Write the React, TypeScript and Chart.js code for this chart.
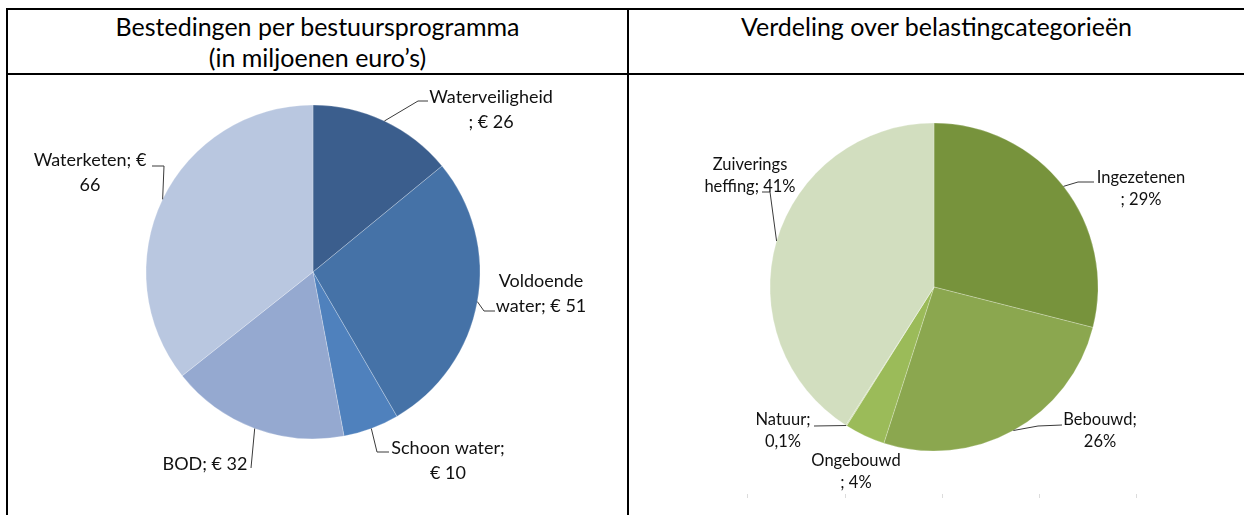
import React, { useEffect, useRef } from "react";
import { Chart, registerables } from "chart.js";
Chart.register(...registerables);

// ---------- DATA ----------
const programCategories = ["Waterveiligheid", "Voldoende water", "Schoon water", "BOD", "Waterketen"];
const programValues = [26, 51, 10, 32, 66];
const programColors = ["#3B5E8D", "#4572A7", "#4F81BD", "#95A9D0", "#B9C7E0"];

const taxCategories = ["Ingezetenen", "Bebouwd", "Ongebouwd", "Natuur", "Zuiveringsheffing"];
const taxValues = [29, 26, 4, 0.1, 41];
const taxColors = ["#77933C", "#8BA74F", "#9BBB59", "#C3D69B", "#D2DEBF"];

const leftTitleLines = ["Bestedingen per bestuursprogramma", "(in miljoenen euro\u2019s)"];
const rightTitleLines = ["Verdeling over belastingcategorie\u00EBn"];

// ---------- label text (wrapped as in the reference) ----------
const fmt = (v: number) => String(v).replace(".", ",");
const programLabelText = programCategories.map((c, i) => `${c}; \u20AC ${programValues[i]}`);
const taxLabelText = taxCategories.map((c, i) => `${c}; ${fmt(taxValues[i])}%`);
const programBreaks = [15, 9, 13, 0, 13];
const taxBreaks = [11, 8, 9, 7, 10];
const wrap = (t: string, b: number) => (b > 0 ? [t.slice(0, b).trim(), t.slice(b).trim()] : [t]);
const programLabelLines = programLabelText.map((t, i) => wrap(t, programBreaks[i]));
const taxLabelLines = taxLabelText.map((t, i) => wrap(t, taxBreaks[i]));

// ---------- label layout (offsets from pie centre, px) ----------
const programLabelStyle = [
  { text: [178, -175], elbow: [105, -171], end: [115, -171] },
  { text: [228, 9], elbow: [171, 39], end: [182, 39] },
  { text: [135, 176], elbow: [64, 180], end: [76, 180] },
  { text: [-108, 192], elbow: [-62, 196], end: [-62, 196] },
  { text: [-223, -112], elbow: [-149, -106], end: [-161, -106] },
];
const taxLabelStyle = [
  { text: [207, -109], elbow: [144, -105], end: [160, -105] },
  { text: [166, 133], elbow: [104, 139], end: [128, 138] },
  { text: [-78, 174] },
  { text: [-151, 133], elbow: [-120, 139], end: [-120, 139] },
  { text: [-184, -122], elbow: [-164, -95], end: [-172, -95] },
];

const leaderLabelPlugin = {
  id: "leaderLabels",
  afterDatasetsDraw(chart: any, _args: any, opts: any) {
    const meta = chart.getDatasetMeta(0);
    const ctx = chart.ctx as CanvasRenderingContext2D;
    ctx.save();
    ctx.font = opts.font;
    ctx.fillStyle = opts.color;
    ctx.strokeStyle = opts.lineColor;
    ctx.lineWidth = 1;
    ctx.textAlign = "center";
    ctx.textBaseline = "middle";
    meta.data.forEach((arc: any, i: number) => {
      const st = opts.styles[i];
      const p = arc.getProps(["x", "y", "startAngle", "endAngle", "outerRadius"], true);
      const mid = (p.startAngle + p.endAngle) / 2;
      if (st.elbow) {
        const ex = p.x + Math.cos(mid) * p.outerRadius;
        const ey = p.y + Math.sin(mid) * p.outerRadius;
        ctx.beginPath();
        ctx.moveTo(ex, ey);
        ctx.lineTo(p.x + st.elbow[0], p.y + st.elbow[1]);
        ctx.lineTo(p.x + st.end[0], p.y + st.end[1]);
        ctx.stroke();
      }
      opts.lines[i].forEach((ln: string, k: number) => {
        ctx.fillText(ln, p.x + st.text[0], p.y + st.text[1] + k * opts.lineHeight);
      });
    });
    ctx.restore();
  },
};

type PieProps = {
  left: number; top: number; width: number; height: number;
  labels: string[]; values: number[]; colors: string[]; radius: number;
  padding: { left: number; right: number; top: number; bottom: number };
  lines: string[][]; styles: any[]; font: string; lineHeight: number;
};

function PieCanvas(props: PieProps) {
  const ref = useRef<HTMLCanvasElement>(null);
  useEffect(() => {
    const chart = new Chart(ref.current!, {
      type: "pie",
      data: {
        labels: props.labels,
        datasets: [
          {
            data: props.values,
            backgroundColor: props.colors,
            borderColor: "rgba(255,255,255,0.35)",
            borderWidth: 0.7,
            radius: props.radius,
          } as any,
        ],
      },
      options: {
        animation: false,
        responsive: false,
        devicePixelRatio: 1,
        layout: { padding: props.padding },
        plugins: {
          legend: { display: false },
          tooltip: { enabled: false },
          leaderLabels: {
            font: props.font,
            color: "#111",
            lineColor: "#3a3a3a",
            lines: props.lines,
            styles: props.styles,
            lineHeight: props.lineHeight,
          },
        } as any,
      },
      plugins: [leaderLabelPlugin],
    });
    return () => chart.destroy();
  }, []);
  return (
    <canvas
      ref={ref}
      width={props.width}
      height={props.height}
      style={{ position: "absolute", left: props.left, top: props.top, width: props.width, height: props.height }}
    />
  );
}

const titleStyle: React.CSSProperties = {
  position: "absolute",
  textAlign: "center",
  fontFamily: "Lato, 'Open Sans', sans-serif",
  fontSize: 25,
  lineHeight: "31px",
  color: "#000",
  whiteSpace: "nowrap",
};

export default function App() {
  const line = (l: number, t: number, w: number, h: number) => (
    <div style={{ position: "absolute", left: l, top: t, width: w, height: h, background: "#000" }} />
  );
  return (
    <div style={{ position: "absolute", left: 0, top: 0, width: 1244, height: 515, background: "#fff", overflow: "hidden" }}>
      <div style={{ ...titleStyle, left: 8, width: 619, top: 11 }}>
        {leftTitleLines.map((t) => (
          <div key={t}>{t}</div>
        ))}
      </div>
      <div style={{ ...titleStyle, left: 629, width: 615, top: 11 }}>
        {rightTitleLines.map((t) => (
          <div key={t}>{t}</div>
        ))}
      </div>
      <PieCanvas
        left={8} top={75} width={619} height={440}
        labels={programCategories} values={programValues} colors={programColors} radius={167}
        padding={{ left: 0, right: 9, top: 0, bottom: 46 }}
        lines={programLabelLines} styles={programLabelStyle}
        font="18px Lato, 'Open Sans', sans-serif" lineHeight={25}
      />
      <PieCanvas
        left={629} top={75} width={615} height={440}
        labels={taxCategories} values={taxValues} colors={taxColors} radius={164}
        padding={{ left: 0, right: 5, top: 0, bottom: 16 }}
        lines={taxLabelLines} styles={taxLabelStyle}
        font="16.5px Lato, 'Open Sans', sans-serif" lineHeight={22}
      />
      {[747, 845, 942, 1039, 1136].map((x) => (
        <div key={x} style={{ position: "absolute", left: x, top: 494, width: 1, height: 4, background: "#dcdcdc" }} />
      ))}
      {line(6, 8, 1238, 2)}
      {line(6, 8, 2, 507)}
      {line(6, 73, 1238, 2)}
      {line(627, 8, 2, 507)}
    </div>
  );
}
